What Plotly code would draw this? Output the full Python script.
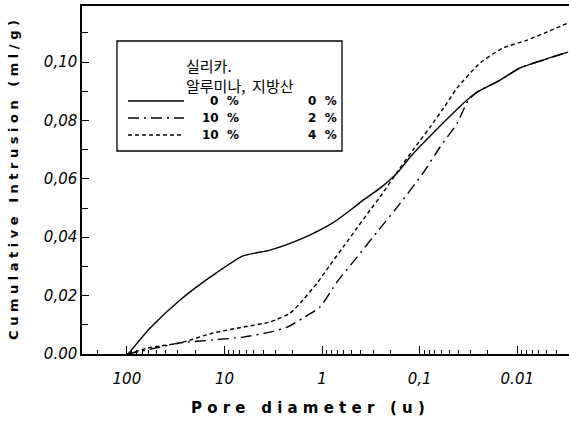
import plotly.graph_objects as go

# ---- data ----
d_solid = [97, 57.8, 28.5, 13.1, 6.45, 3.41, 1.57, 0.868, 0.702, 0.481, 0.380, 0.255, 0.170, 0.125, 0.0729, 0.0327, 0.0258, 0.0150, 0.00936, 0.00544, 0.00302]
v_solid = [0.0, 0.0089, 0.0185, 0.027, 0.0336, 0.0356, 0.0397, 0.044, 0.0459, 0.050, 0.0527, 0.0568, 0.062, 0.0675, 0.0757, 0.087, 0.0897, 0.0938, 0.098, 0.1007, 0.1034]

d_dashdot = [99.5, 62, 28.5, 13.1, 6.45, 3.41, 2.28, 1.57, 1.05, 0.702, 0.438, 0.273, 0.170, 0.0922, 0.0618, 0.0414, 0.0317, 0.0258, 0.0150, 0.00936, 0.00544, 0.00302]
v_dashdot = [0.0, 0.0014, 0.0038, 0.0048, 0.0058, 0.0075, 0.0092, 0.0123, 0.0161, 0.0247, 0.0332, 0.0418, 0.0503, 0.062, 0.0709, 0.079, 0.087, 0.0897, 0.0938, 0.098, 0.1007, 0.1034]

d_dash = [97, 62, 28.5, 13.1, 6.45, 3.41, 2.13, 1.57, 1.125, 0.828, 0.609, 0.438, 0.322, 0.255, 0.170, 0.117, 0.0782, 0.0524, 0.0414, 0.0240, 0.0140, 0.00794, 0.00495, 0.00302]
v_dash = [0.0, 0.002, 0.0038, 0.0072, 0.0092, 0.0110, 0.0140, 0.0185, 0.0243, 0.0305, 0.0366, 0.0432, 0.0493, 0.0538, 0.0623, 0.0699, 0.0777, 0.086, 0.0911, 0.0997, 0.1048, 0.1075, 0.1103, 0.1134]

x_ticks = [100, 10, 1, 0.1, 0.01]
x_ticktext = ["100", "10", "1", "0,1", "0.01"]
y_ticks = [0.0, 0.02, 0.04, 0.06, 0.08, 0.10]
y_ticktext = ["0.00", "0,02", "0,04", "0,06", "0,08", "0,10"]

legend_title = ["실리카.", "알루미나,  지방산"]
legend_silica = ["0  %", "10  %", "10  %"]
legend_fatty = ["0  %", "2  %", "4  %"]
dashes = ["solid", "11px,5px,2px,5px", "4px,3px"]

# ---- figure ----
fig = go.Figure()
series = [(d_solid, v_solid), (d_dashdot, v_dashdot), (d_dash, v_dash)]
for (xs, ys), ds in zip(series, dashes):
    fig.add_trace(go.Scatter(x=xs, y=ys, mode="lines",
                             line=dict(color="black", width=1.4, dash=ds, shape="spline", smoothing=0.6),
                             showlegend=False))

minor_vals = []
for dec in [0.001, 0.01, 0.1, 1, 10, 100]:
    for k in range(2, 10):
        minor_vals.append(k * dec)

fig.update_xaxes(type="log", range=[2.46, -2.53], tickvals=x_ticks, ticktext=x_ticktext,
                 showline=True, linecolor="black", linewidth=1.5, mirror=True,
                 ticks="inside", ticklen=8, tickcolor="black", tickwidth=1.2,
                 ticklabelstandoff=10,
                 minor=dict(tickvals=minor_vals, ticks="inside", ticklen=4, tickcolor="black", tickwidth=1),
                 showgrid=False, zeroline=False,
                 tickfont=dict(family="DejaVu Sans", size=15, color="black", style="italic"))
fig.update_yaxes(range=[0, 0.1192], tickvals=y_ticks, ticktext=y_ticktext,
                 showline=True, linecolor="black", linewidth=1.5,
                 ticks="inside", ticklen=7, tickcolor="black", tickwidth=1.2,
                 minor=dict(dtick=0.01, ticks="inside", ticklen=6, tickcolor="black", tickwidth=1),
                 showgrid=False, zeroline=False,
                 tickfont=dict(family="DejaVu Sans", size=15, color="black", style="italic"),
                 title=dict(text="C u m u l a t i v e   I n t r u s i o n   ( m l / g )",
                            font=dict(family="DejaVu Sans", size=13, color="black", weight="bold"),
                            standoff=22))

# ---- legend box drawn by hand ----
def px(x):
    return (x - 82) / 487.0

def py(y):
    return (354 - y) / 348.0

shapes = [dict(type="rect", xref="paper", yref="paper", x0=px(117), x1=px(342), y0=py(151), y1=py(41),
               line=dict(color="black", width=1.3), fillcolor="white", layer="above")]
row_y = [101, 118, 135]
for ry, ds in zip(row_y, dashes):
    shapes.append(dict(type="line", xref="paper", yref="paper", x0=px(128), x1=px(184), y0=py(ry), y1=py(ry),
                       line=dict(color="black", width=1.3, dash=ds), layer="above"))
annotations = [dict(text="<br>".join(legend_title), xref="paper", yref="paper", x=px(184), y=py(75),
                    xanchor="left", yanchor="middle", align="left", showarrow=False,
                    font=dict(family="Noto Sans CJK KR", size=15, color="black"))]
for ry, a, b in zip(row_y, legend_silica, legend_fatty):
    annotations.append(dict(text=a, xref="paper", yref="paper", x=px(241), y=py(ry), xanchor="right",
                            yanchor="middle", showarrow=False,
                            font=dict(family="DejaVu Sans", size=12, color="black", weight="bold")))
    annotations.append(dict(text=b, xref="paper", yref="paper", x=px(339), y=py(ry), xanchor="right",
                            yanchor="middle", showarrow=False,
                            font=dict(family="DejaVu Sans", size=12, color="black", weight="bold")))

# x-axis title (offset left as in the reference)
annotations.append(dict(text="P o r e   d i a m e t e r   ( u )", xref="paper", yref="paper",
                        x=px(308), y=py(408), xanchor="center", yanchor="middle", showarrow=False,
                        font=dict(family="DejaVu Sans", size=15, color="black", weight="bold")))

fig.update_layout(width=569, height=429, margin=dict(l=82, r=0, t=6, b=75),
                  paper_bgcolor="white", plot_bgcolor="white",
                  shapes=shapes, annotations=annotations)
fig.write_html("out.html")
